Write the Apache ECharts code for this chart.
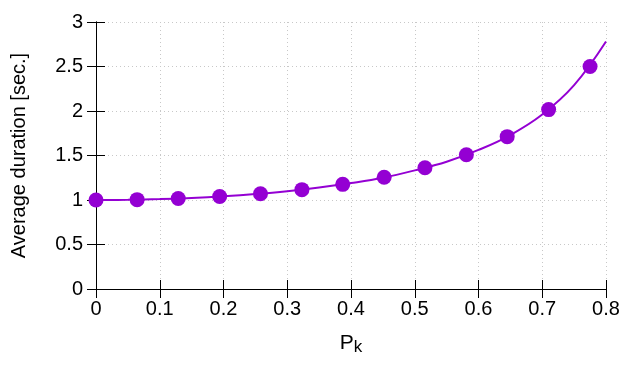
<!DOCTYPE html>
<html><head><meta charset="utf-8">
<script src="https://cdn.jsdelivr.net/npm/echarts@6/dist/echarts.min.js"></script>
<style>html,body{margin:0;padding:0;background:#fff}#c{width:640px;height:384px}</style>
</head><body><div id="c"></div>
<script>
// Measured points (P_k, average duration)
var pointsX = [0, 0.0645, 0.129, 0.194, 0.258, 0.323, 0.387, 0.452, 0.516, 0.581, 0.645, 0.71, 0.775];
var pointsY = [1.0, 1.004, 1.017, 1.039, 1.071, 1.116, 1.176, 1.256, 1.363, 1.509, 1.712, 2.016, 2.5];
// Fitted curve, values
var curveX = [0, 0.05, 0.1, 0.15, 0.2, 0.25, 0.3, 0.35, 0.4, 0.45, 0.5, 0.55, 0.6, 0.65, 0.7, 0.75, 0.8];
var curveY = [1.0, 1.0025, 1.01, 1.023, 1.042, 1.067, 1.099, 1.14, 1.19, 1.25, 1.333, 1.43, 1.5625, 1.73, 1.96, 2.29, 2.78];
var xTicks = [0, 0.1, 0.2, 0.3, 0.4, 0.5, 0.6, 0.7, 0.8];
var yTicks = [0, 0.5, 1, 1.5, 2, 2.5, 3];
var xTitle = 'P';
var xTitleSub = 'k';
var yTitle = 'Average duration [sec.]';

var color = '#9400d3';
var font = 'Liberation Sans, Arial, sans-serif';
var chart = echarts.init(document.getElementById('c'));
function zip(a, b) { return a.map(function (v, i) { return [v, b[i]]; }); }
var axisLine = { show: true, lineStyle: { color: '#000', width: 1 } };
var tick = { show: true, inside: true, length: 9, lineStyle: { color: '#000', width: 1 } };
var grid = { show: true, lineStyle: { color: '#c8c8c8', width: 1, type: [1, 3] } };
chart.setOption({
  animation: false,
  grid: { left: 96, top: 22, right: 34, bottom: 95, containLabel: false },
  xAxis: [{
    type: 'value', min: 0, max: 0.8, interval: 0.1,
    axisLine: axisLine, axisTick: tick, splitLine: grid,
    axisLabel: { margin: 10, fontSize: 20, color: '#000', fontFamily: font,
      formatter: function (v) { return String(Math.round(v * 10) / 10); } },
    name: '{a|' + xTitle + '}{b|' + xTitleSub + '}', nameLocation: 'middle', nameGap: 42,
    nameTextStyle: { rich: {
      a: { fontSize: 21, color: '#000', fontFamily: font },
      b: { fontSize: 17, color: '#000', fontFamily: font, padding: [8, 0, 0, 0] } } }
  }, {
    type: 'value', position: 'top', min: 0, max: 0.8, interval: 0.1,
    axisLine: axisLine, axisTick: tick, axisLabel: { show: false }, splitLine: { show: false }
  }],
  yAxis: [{
    type: 'value', min: 0, max: 3, interval: 0.5,
    axisLine: axisLine, axisTick: tick, splitLine: grid,
    axisLabel: { margin: 13, fontSize: 20, color: '#000', fontFamily: font },
    name: yTitle, nameLocation: 'middle', nameGap: 67, nameRotate: 90,
    nameTextStyle: { fontSize: 20, color: '#000', fontFamily: font }
  }, {
    type: 'value', position: 'right', min: 0, max: 3, interval: 0.5,
    axisLine: axisLine, axisTick: tick, axisLabel: { show: false }, splitLine: { show: false }
  }],
  series: [{
    type: 'line', data: zip(curveX, curveY), smooth: 0.4, showSymbol: false,
    lineStyle: { color: color, width: 2 }, z: 2
  }, {
    type: 'scatter', data: zip(pointsX, pointsY), symbol: 'circle', symbolSize: 15,
    itemStyle: { color: color, opacity: 1 }, z: 3
  }]
});
</script></body></html>
